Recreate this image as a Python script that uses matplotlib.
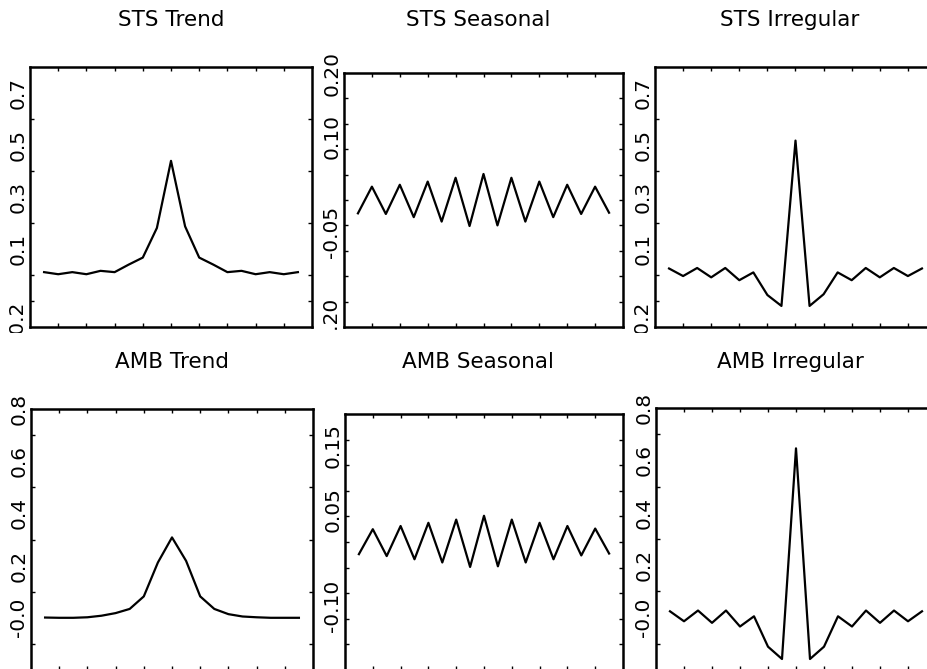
"""Six autocorrelation-style panels: STS vs AMB trend / seasonal / irregular."""

import matplotlib

matplotlib.use("Agg")
import matplotlib.pyplot as plt
from matplotlib.transforms import Bbox, TransformedBbox

LAGS = list(range(-9, 10))

STS_TREND = [0.011, 0.003, 0.011, 0.003, 0.016, 0.011, 0.040, 0.067, 0.181, 0.439,
             0.187, 0.067, 0.040, 0.011, 0.016, 0.003, 0.011, 0.003, 0.011]
STS_SEASONAL = [-0.021, 0.021, -0.022, 0.024, -0.027, 0.029, -0.034, 0.035, -0.041, 0.041,
                -0.040, 0.035, -0.034, 0.029, -0.027, 0.024, -0.022, 0.021, -0.020]
STS_IRREGULAR = [0.025, -0.004, 0.027, -0.009, 0.027, -0.020, 0.010, -0.077, -0.119, 0.517,
                 -0.119, -0.074, 0.010, -0.020, 0.027, -0.009, 0.027, -0.004, 0.025]
AMB_TREND = [0.001, 0.0, 0.0, 0.002, 0.008, 0.018, 0.034, 0.082, 0.212, 0.308,
             0.218, 0.082, 0.034, 0.014, 0.005, 0.002, 0.0, 0.0, 0.0]
AMB_SEASONAL = [-0.019, 0.020, -0.022, 0.025, -0.027, 0.030, -0.032, 0.035, -0.039, 0.041,
                -0.038, 0.035, -0.032, 0.030, -0.027, 0.025, -0.021, 0.021, -0.018]
AMB_IRREGULAR = [0.024, -0.014, 0.027, -0.020, 0.027, -0.034, 0.005, -0.111, -0.158, 0.646,
                 -0.158, -0.111, 0.005, -0.034, 0.027, -0.020, 0.027, -0.014, 0.024]

TITLES = ["STS Trend", "STS Seasonal", "STS Irregular",
          "AMB Trend", "AMB Seasonal", "AMB Irregular"]
SERIES = [STS_TREND, STS_SEASONAL, STS_IRREGULAR, AMB_TREND, AMB_SEASONAL, AMB_IRREGULAR]
YLIMS = [(-0.2, 0.8), (-0.2, 0.2), (-0.2, 0.8), (-0.2, 0.8), (-0.2, 0.2), (-0.2, 0.8)]
# label positions (the bottom labels sit a little above the frame and get cut off)
YTICKS = [[-0.18, 0.1, 0.3, 0.5, 0.7],
          [-0.195, -0.05, 0.10, 0.20],
          [-0.18, 0.1, 0.3, 0.5, 0.7],
          [0.0, 0.2, 0.4, 0.6, 0.8],
          [-0.10, 0.05, 0.15],
          [0.0, 0.2, 0.4, 0.6, 0.8]]
YLABELS = [["-0.2", "0.1", "0.3", "0.5", "0.7"],
           ["-0.20", "-0.05", "0.10", "0.20"],
           ["-0.2", "0.1", "0.3", "0.5", "0.7"],
           ["-0.0", "0.2", "0.4", "0.6", "0.8"],
           ["-0.10", "0.05", "0.15"],
           ["-0.0", "0.2", "0.4", "0.6", "0.8"]]

W, H = 928, 669
# frame boxes in pixels: left, top, right, bottom
BOXES = [(30, 67, 312, 327), (344, 73, 623, 327), (655, 67, 936, 327),
         (31, 409, 313, 670), (345, 414, 623, 670), (656, 408, 936, 670)]
TITLE_POS = [(171, 20), (478, 20), (790, 20), (172, 362), (478, 362), (790, 362)]

fig = plt.figure(figsize=(W / 100, H / 100), dpi=100)

for i, (title, ys) in enumerate(zip(TITLES, SERIES)):
    x0, y0, x1, y1 = BOXES[i]
    ax = fig.add_axes([x0 / W, 1 - y1 / H, (x1 - x0) / W, (y1 - y0) / H])
    ax.plot(LAGS, ys, color="black", lw=1.6)
    ax.set_xlim(-10, 10)
    lo, hi = YLIMS[i]
    ax.set_ylim(lo, hi)

    ax.set_xticks([])
    ax.set_xticks(range(-8, 9, 2), minor=True)
    ax.set_yticks(YTICKS[i], YLABELS[i])
    ax.set_yticks([lo + k * (hi - lo) / 10 for k in range(1, 10)], minor=True)
    ax.tick_params(which="minor", direction="in", length=3, width=1,
                   top=True, bottom=True, left=True, right=True)
    ax.tick_params(which="major", axis="y", length=0, pad=2, labelsize=14.5)
    clip = TransformedBbox(Bbox([[-0.4, -6 / (y1 - y0)], [1.0, 1.4]]), ax.transAxes)
    for lab in ax.get_yticklabels():
        lab.set_rotation(90)
        lab.set_va("center")
        lab.set_clip_on(True)
        lab.set_clip_box(clip)
    for s in ax.spines.values():
        s.set_linewidth(1.8)

    tx, ty = TITLE_POS[i]
    fig.text(tx / W, 1 - ty / H, title, ha="center", va="center", fontsize=15.5)

fig.savefig("out.png", dpi=100)
